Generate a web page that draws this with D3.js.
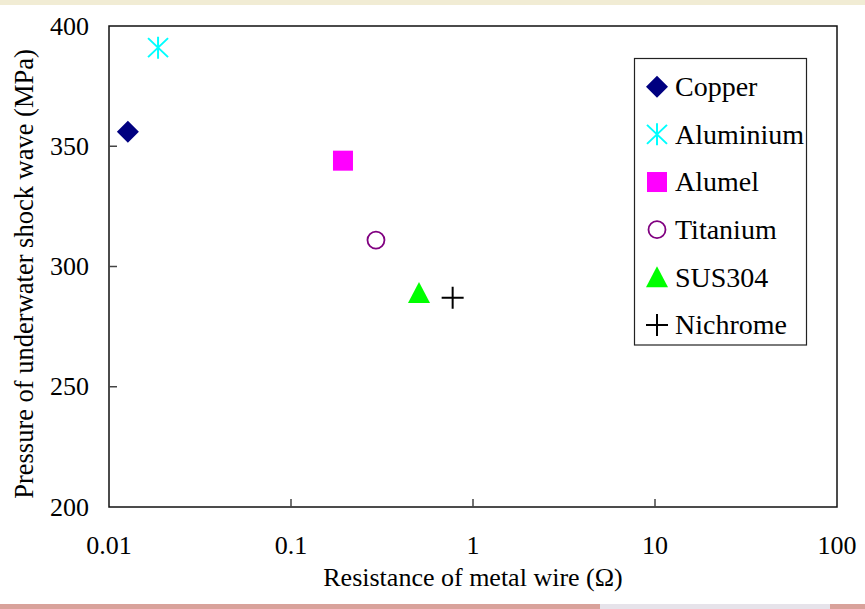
<!DOCTYPE html>
<html>
<head>
<meta charset="utf-8">
<script src="https://cdn.jsdelivr.net/npm/d3@7"></script>
<style>
  html, body { margin: 0; padding: 0; background: #fff; }
  svg { display: block; }
</style>
</head>
<body>
<svg id="chart" width="865" height="609"></svg>
<script>
// data
const materials = ["Copper", "Aluminium", "Alumel", "Titanium", "SUS304", "Nichrome"];
const resistance = [0.0127, 0.0186, 0.193, 0.293, 0.505, 0.773]; // ohm
const pressure = [356, 391, 344, 311, 289, 287];                // MPa
const markerColors = ["#000080", "#00ffff", "#ff00ff", "#800080", "#00ff00", "#000000"];
const markerShapes = ["diamond", "asterisk", "square", "circle", "triangle", "plus"];
const xTicks = [0.01, 0.1, 1, 10, 100];
const yTicks = [200, 250, 300, 350, 400];

const W = 865, H = 609;
const m = {left: 109, right: 837, top: 26, bottom: 507};
const serif = "'Liberation Serif', 'Times New Roman', Times, 'DejaVu Serif', serif";

const svg = d3.select("#chart").attr("font-family", serif);

// decorative slide background bands
svg.append("rect").attr("x", 0).attr("y", 0).attr("width", W).attr("height", 5).attr("fill", "#f1ecd4");
svg.append("rect").attr("x", 0).attr("y", 604).attr("width", W).attr("height", 5).attr("fill", "#d9a29b");
svg.append("rect").attr("x", 600).attr("y", 604).attr("width", 230).attr("height", 5).attr("fill", "#e6e3ea");

const x = d3.scaleLog().domain([0.01, 100]).range([m.left, m.right]);
const y = d3.scaleLinear().domain([200, 400]).range([m.bottom, m.top]);

// plot frame
svg.append("rect")
  .attr("x", m.left).attr("y", m.top)
  .attr("width", m.right - m.left).attr("height", m.bottom - m.top)
  .attr("fill", "#fff").attr("stroke", "#111").attr("stroke-width", 1.5);

// inward ticks
svg.append("g").selectAll("line").data(yTicks.slice(1, -1)).join("line")
  .attr("x1", m.left).attr("x2", m.left + 8)
  .attr("y1", d => y(d)).attr("y2", d => y(d))
  .attr("stroke", "#444").attr("stroke-width", 1.5);
svg.append("g").selectAll("line").data(xTicks.slice(1, -1)).join("line")
  .attr("x1", d => x(d)).attr("x2", d => x(d))
  .attr("y1", m.bottom).attr("y2", m.bottom - 8)
  .attr("stroke", "#444").attr("stroke-width", 1.5);

// tick labels
svg.append("g").selectAll("text").data(yTicks).join("text")
  .attr("x", m.left - 20).attr("y", d => y(d)).attr("dy", "0.33em")
  .attr("text-anchor", "end").attr("font-size", 26)
  .text(d => d);
svg.append("g").selectAll("text").data(xTicks).join("text")
  .attr("x", d => x(d)).attr("y", 554)
  .attr("text-anchor", "middle").attr("font-size", 26)
  .text(d => String(d));

// axis titles
svg.append("text")
  .attr("x", (m.left + m.right) / 2).attr("y", 586)
  .attr("text-anchor", "middle").attr("font-size", 26)
  .text("Resistance of metal wire (\u03A9)");
svg.append("text")
  .attr("transform", "translate(33,274) rotate(-90)")
  .attr("text-anchor", "middle").attr("font-size", 26.5)
  .text("Pressure of underwater shock wave (MPa)");

// marker drawing
function drawMarker(g, shape, color) {
  const r = 11;
  if (shape === "diamond") {
    g.append("path").attr("d", `M0,${-r}L${r},0L0,${r}L${-r},0Z`).attr("fill", color);
  } else if (shape === "square") {
    g.append("rect").attr("x", -10).attr("y", -10).attr("width", 20).attr("height", 20).attr("fill", color);
  } else if (shape === "circle") {
    g.append("circle").attr("r", 8.5).attr("fill", "none").attr("stroke", color).attr("stroke-width", 1.8);
  } else if (shape === "triangle") {
    g.append("path").attr("d", `M0,-11L11,10L-11,10Z`).attr("fill", color);
  } else if (shape === "asterisk") {
    g.append("path")
      .attr("d", `M0,-11V11M-10,-9.5L10,9.5M-10,9.5L10,-9.5`)
      .attr("stroke", color).attr("stroke-width", 2).attr("fill", "none");
  } else if (shape === "plus") {
    g.append("path")
      .attr("d", `M-11,0H11M0,-11V11`)
      .attr("stroke", color).attr("stroke-width", 2).attr("fill", "none");
  }
}

// points
materials.forEach((name, i) => {
  const g = svg.append("g")
    .attr("transform", `translate(${x(resistance[i])},${y(pressure[i])})`);
  drawMarker(g, markerShapes[i], markerColors[i]);
});

// legend
const lg = svg.append("g");
lg.append("rect")
  .attr("x", 634.5).attr("y", 58.5).attr("width", 172).attr("height", 286.5)
  .attr("fill", "#fff").attr("stroke", "#222").attr("stroke-width", 1.2);
const rowY = d3.scaleLinear().domain([0, materials.length - 1]).range([86.7, 325]);
materials.forEach((name, i) => {
  const g = lg.append("g").attr("transform", `translate(657,${rowY(i)})`);
  drawMarker(g, markerShapes[i], markerColors[i]);
  lg.append("text")
    .attr("x", 675).attr("y", rowY(i)).attr("dy", "0.33em")
    .attr("font-size", 28)
    .text(name);
});
</script>
</body>
</html>
